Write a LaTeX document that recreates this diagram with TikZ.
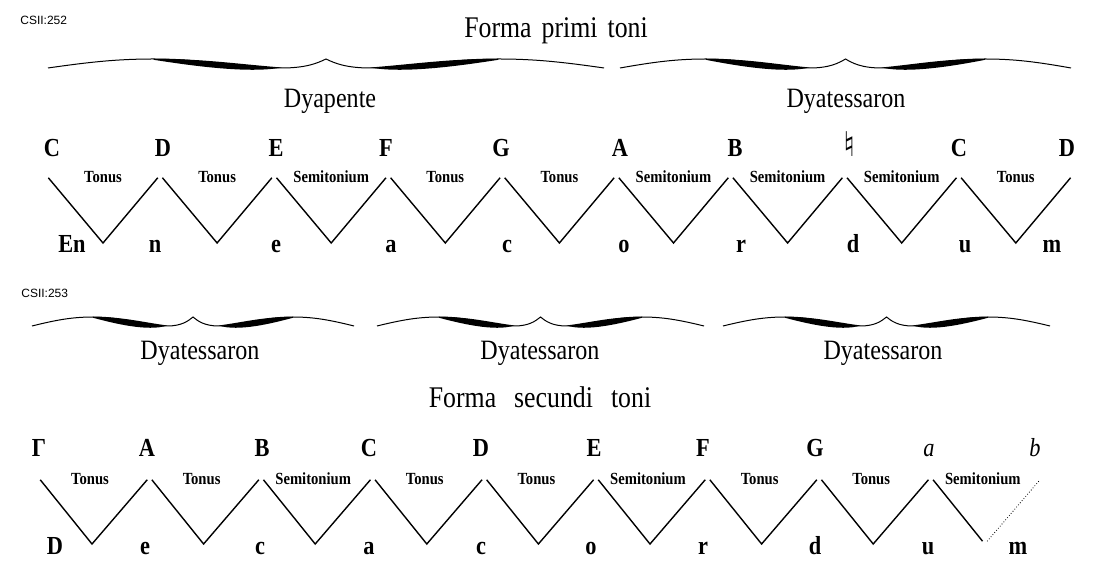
\documentclass[tikz,border=0pt]{standalone}
\usepackage{fontspec}
\setmainfont[FakeStretch=0.86]{Liberation Serif}
\setsansfont{Liberation Sans}
\newfontfamily\symfont{DejaVu Sans}
\usetikzlibrary{positioning}

\newcommand{\curlybrace}[3]{%
  \pgfmathsetmacro{\bmid}{(#1+#2)/2}%
  \pgfmathsetmacro{\bhalf}{(#2-#1)/2}%
  \begin{scope}[shift={(\bmid,#3)},xscale=\bhalf]
    \draw[line width=0.5pt] (-1,9) .. controls (-0.85,3) and (-0.75,0) .. (-0.62,0)
      .. controls (-0.42,0) and (-0.34,9) .. (-0.16,9)
      .. controls (-0.07,9) and (-0.03,4) .. (0,0)
      .. controls (0.03,4) and (0.07,9) .. (0.16,9)
      .. controls (0.34,9) and (0.42,0) .. (0.62,0)
      .. controls (0.75,0) and (0.85,3) .. (1,9);
    \fill (-0.62,0) .. controls (-0.45,-0.5) and (-0.32,5) .. (-0.16,8.5)
      .. controls (-0.28,15) and (-0.5,6) .. (-0.62,0.8) -- cycle;
    \fill (0.62,0) .. controls (0.45,-0.5) and (0.32,5) .. (0.16,8.5)
      .. controls (0.28,15) and (0.5,6) .. (0.62,0.8) -- cycle;
  \end{scope}}

\begin{document}
\begin{tikzpicture}[x=0.5pt,y=-0.5pt,
    every node/.style={inner sep=0pt,anchor=base},
    title/.style={font=\fontsize{15}{17}\selectfont},
    species/.style={font=\fontsize{14}{16}\selectfont},
    note/.style={font=\fontsize{13}{15}\selectfont\bfseries},
    interval/.style={font=\fontsize{8.5}{10}\selectfont\bfseries},
    tag/.style={font=\sffamily\fontsize{6}{7}\selectfont,anchor=west},
    zig/.style={line width=0.7pt,shorten <=1.8pt,shorten >=1.8pt}]
  \useasboundingbox (0,0) rectangle (1107,576);

  \node[tag] (tagI) at (20,20) {CSII:252};
  \node[title] (primi) at (556,38) {Forma\hspace{5pt}primi\hspace{5pt}toni};
  \curlybrace{48}{604}{59}
  \curlybrace{620}{1071}{59}
  \node[species] (dyapente) at (330,108) {Dyapente};
  \node[species] (dyatessI) at (846,108) {Dyatessaron};

  \foreach \x/\t [count=\i] in {52/C,163/D,276/E,386/F,501/G,620/A,735/B,850/{{\symfont\bfseries\fontsize{17}{19}\selectfont ♮}},959/C,1067/D}
    \node[note] (top\i) at (\x,157) {\t};
  \foreach \x/\t [count=\i] in {72/En,155/n,276/e,391/a,507/c,624/o,741/r,853/d,965/u,1052/m}
    \node[note] (syl\i) at (\x,253) {\t};
  \foreach \t [count=\i] in {Tonus,Tonus,Semitonium,Tonus,Tonus,Semitonium,Semitonium,Semitonium,Tonus}
    \node[interval] (int\i) at ({103+114.1*(\i-1)},183) {\t};

  \foreach \i in {0,...,9}
    \coordinate (tp\i) at ({46+114.1*\i},175);
  \foreach \i in {0,...,8}
    \coordinate (tv\i) at ({103+114.1*\i},243);
  \foreach \i [evaluate=\i as \j using int(\i+1)] in {0,...,8}
    \draw[zig] (tp\i) -- (tv\i) -- (tp\j);

  \node[tag] (tagII) at (21,293) {CSII:253};
  \curlybrace{32}{354}{317}
  \curlybrace{377}{704}{317}
  \curlybrace{723}{1050}{317}
  \node[species] (dyatessII) at (200,360) {Dyatessaron};
  \node[species] (dyatessIII) at (540,360) {Dyatessaron};
  \node[species] (dyatessIV) at (883,360) {Dyatessaron};
  \node[title] (secundi) at (540,408) {Forma\hspace{9pt}secundi\hspace{9pt}toni};

  \foreach \x/\t [count=\i] in {39/Γ,147/A,262/B,369/C,481/D,594/E,703/F,815/G,929/{{\mdseries\itshape a}},1035/{{\mdseries\itshape b}}}
    \node[note] (low\i) at (\x,457) {\t};
  \foreach \x/\t [count=\i] in {55/D,145/e,260/c,369/a,481/c,591/o,703/r,815/d,928/u,1018/m}
    \node[note] (sylb\i) at (\x,554) {\t};
  \foreach \t [count=\i] in {Tonus,Tonus,Semitonium,Tonus,Tonus,Semitonium,Tonus,Tonus,Semitonium}
    \node[interval] (intb\i) at ({90+111.6*(\i-1)},484) {\t};

  \foreach \i in {0,...,9}
    \coordinate (bp\i) at ({38+111.6*\i},477);
  \foreach \i in {0,...,8}
    \coordinate (bv\i) at ({92+111.6*\i},544);
  \foreach \i [evaluate=\i as \j using int(\i+1)] in {0,...,7}
    \draw[zig] (bp\i) -- (bv\i) -- (bp\j);
  \draw[zig] (bp8) -- (bv8);
  \draw[zig,line width=0.4pt,densely dotted] (bv8) -- (bp9);
\end{tikzpicture}
\end{document}
